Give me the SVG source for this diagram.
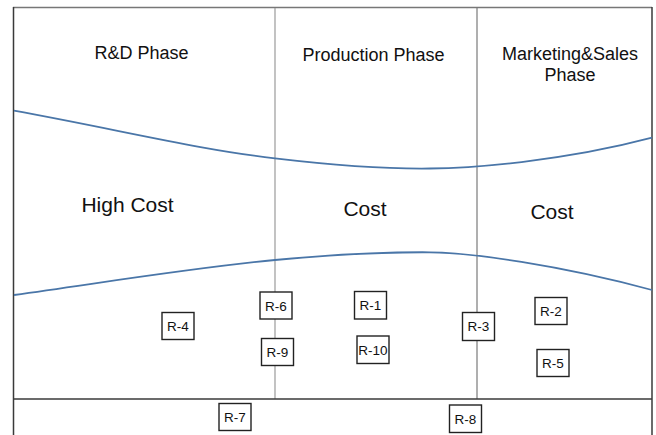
<svg xmlns="http://www.w3.org/2000/svg" width="656" height="435" viewBox="0 0 656 435">
<style>
.frame{stroke:#3a3a3a;stroke-width:1.5;fill:none}
.div{stroke:#9a9a9a;stroke-width:1.2;fill:none}
.curve{stroke:#4a76a8;stroke-width:1.8;fill:none}
.t{font-family:"Liberation Sans",Arial,sans-serif;fill:#111;text-anchor:middle}
.ph{font-size:18px}
.cost{font-size:21px}
.box rect{fill:#fff;stroke:#222;stroke-width:1.4}
.box text{font-family:"Liberation Sans",Arial,sans-serif;font-size:13.5px;fill:#111;text-anchor:middle}
</style>
<rect x="0" y="0" width="656" height="435" fill="#fff"/>
<g id="frame">
<line class="frame" x1="13" y1="7.5" x2="652" y2="7.5" style="stroke:#777"/>
<line class="frame" x1="13.5" y1="7" x2="13.5" y2="435"/>
<line class="frame" x1="652" y1="7" x2="652" y2="435"/>
<line class="div" x1="275" y1="8" x2="275" y2="399"/>
<line class="div" x1="477" y1="8" x2="477" y2="399" style="stroke:#7a7a7a"/>
<line class="frame" x1="13" y1="399" x2="652" y2="399"/>
</g>
<g id="connectors">
<path class="curve" d="M14,110.7 C120,130 200,150 275,158.3 C340,166 390,169 430,168.5 C470,168 560,162 652,137.7"/>
<path class="curve" d="M14,295 C120,280 200,267 275,260 C340,254 390,252 430,252.3 C470,252.6 560,265 652,290"/>
</g>
<g id="phase-rd"><text class="t ph" x="141.5" y="59">R&amp;D Phase</text></g>
<g id="phase-production"><text class="t ph" x="373.5" y="61">Production Phase</text></g>
<g id="phase-marketing"><text class="t ph" x="570" y="60">Marketing&amp;Sales</text><text class="t ph" x="570" y="81">Phase</text></g>
<g id="cost-high"><text class="t cost" x="127.5" y="212">High Cost</text></g>
<g id="cost-production"><text class="t cost" x="365" y="216">Cost</text></g>
<g id="cost-marketing"><text class="t cost" x="552" y="219">Cost</text></g>
<g id="R-1" class="box"><rect x="354.5" y="291.5" width="32" height="27.5"/><text x="370.5" y="310">R-1</text></g>
<g id="R-2" class="box"><rect x="535" y="297.5" width="32" height="27"/><text x="551" y="316">R-2</text></g>
<g id="R-3" class="box"><rect x="462.5" y="312.5" width="32" height="28"/><text x="478.5" y="331">R-3</text></g>
<g id="R-4" class="box"><rect x="162" y="312.5" width="32" height="27"/><text x="178" y="331">R-4</text></g>
<g id="R-5" class="box"><rect x="537" y="349.5" width="32" height="27"/><text x="553" y="368">R-5</text></g>
<g id="R-6" class="box"><rect x="260" y="292" width="32" height="27"/><text x="276" y="310.5">R-6</text></g>
<g id="R-7" class="box"><rect x="219" y="403.5" width="32" height="27"/><text x="235" y="422">R-7</text></g>
<g id="R-8" class="box"><rect x="449.5" y="405" width="32" height="27.5"/><text x="465.5" y="424">R-8</text></g>
<g id="R-9" class="box"><rect x="261.5" y="338.5" width="32" height="27"/><text x="277.5" y="357">R-9</text></g>
<g id="R-10" class="box"><rect x="357" y="336" width="32" height="27.5"/><text x="373" y="354.5">R-10</text></g>
</svg>
